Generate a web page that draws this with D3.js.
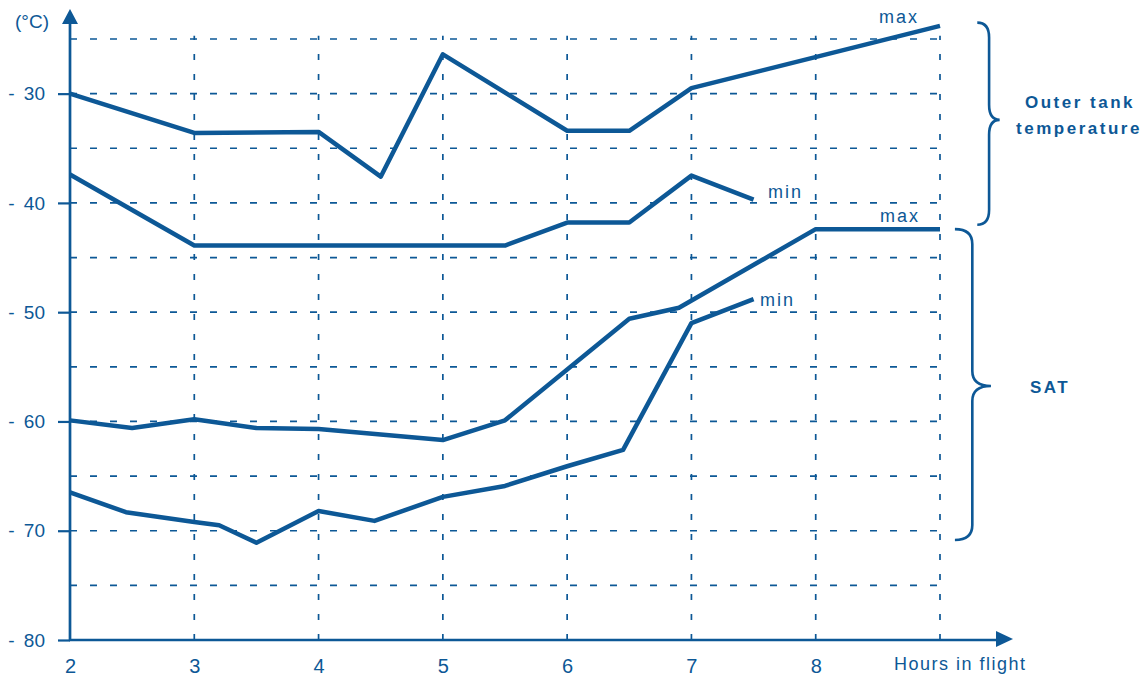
<!DOCTYPE html>
<html>
<head>
<meta charset="utf-8">
<script src="https://cdn.jsdelivr.net/npm/d3@7"></script>
<style>
  html, body { margin: 0; padding: 0; background: #fff; }
  svg { display: block; font-family: "Liberation Sans", Arial, Helvetica, sans-serif; }
</style>
</head>
<body>
<svg id="chart" width="1148" height="679"></svg>
<script>
// ---- Data (hours in flight, temperature °C) ----
const outerMaxHours = [2, 3, 4, 4.5, 5, 6, 6.5, 7, 9];
const outerMaxTemp  = [-30, -33.6, -33.5, -37.6, -26.4, -33.4, -33.4, -29.5, -23.8];

const outerMinHours = [2, 3, 5.5, 6, 6.5, 7, 7.5];
const outerMinTemp  = [-37.4, -43.9, -43.9, -41.8, -41.8, -37.5, -39.7];

const satMaxHours = [2, 2.5, 3, 3.5, 4, 5, 5.5, 6.5, 6.9, 8, 9];
const satMaxTemp  = [-59.9, -60.6, -59.8, -60.6, -60.7, -61.7, -59.9, -50.6, -49.6, -42.4, -42.4];

const satMinHours = [2, 2.45, 3, 3.2, 3.5, 4, 4.45, 5, 5.5, 6, 6.45, 7, 7.5];
const satMinTemp  = [-66.5, -68.3, -69.2, -69.5, -71.1, -68.2, -69.1, -66.9, -65.9, -64.1, -62.6, -51.0, -48.8];

const xTickLabels = [2, 3, 4, 5, 6, 7, 8];
const xGridValues = [3, 4, 5, 6, 7, 8, 9];
const yTickLabels = [-30, -40, -50, -60, -70, -80];
const yGridValues = [-25, -30, -35, -40, -45, -50, -55, -60, -65, -70, -75];

// ---- Layout ----
const color = "#0d5896";
const svg = d3.select("#chart");
const x = d3.scaleLinear().domain([2, 9]).range([70, 940]);
const y = d3.scaleLinear().domain([-80, -25]).range([640, 39]);

// Grid
const grid = svg.append("g").attr("stroke", color).attr("stroke-width", 1.7).attr("fill", "none");
grid.selectAll("line.h").data(yGridValues).join("line")
  .attr("class", "h")
  .attr("x1", x(2)).attr("x2", x(9))
  .attr("y1", d => y(d)).attr("y2", d => y(d))
  .attr("stroke-dasharray", "7,13");
grid.selectAll("line.v").data(xGridValues).join("line")
  .attr("class", "v")
  .attr("x1", d => x(d)).attr("x2", d => x(d))
  .attr("y1", y(-80)).attr("y2", y(-24.7))
  .attr("stroke-dasharray", "6,14");

// Y axis
const yAxis = svg.append("g")
  .attr("transform", `translate(${x(2)},0)`)
  .call(d3.axisLeft(y).tickValues(yTickLabels).tickSize(12).tickPadding(13)
    .tickFormat(d => "- " + Math.abs(d)));
yAxis.select(".domain").remove();
yAxis.selectAll(".tick line").attr("stroke", color).attr("stroke-width", 2.2);
yAxis.selectAll(".tick text").attr("fill", color).attr("font-size", 19)
  .style("word-spacing", "4px");

// X axis
const xAxis = svg.append("g")
  .attr("transform", `translate(0,${y(-80)})`)
  .call(d3.axisBottom(x).tickValues(xTickLabels).tickSize(0).tickPadding(19).tickFormat(d3.format("d")));
xAxis.select(".domain").remove();
xAxis.selectAll(".tick text").attr("fill", color).attr("font-size", 20);

// Axis lines with arrows
svg.append("line").attr("x1", x(2)).attr("x2", x(2)).attr("y1", y(-80) + 1).attr("y2", 22)
  .attr("stroke", color).attr("stroke-width", 2.7);
svg.append("path").attr("d", `M${x(2)},9 L${x(2) - 8},24 L${x(2) + 8},24 Z`).attr("fill", color);
svg.append("line").attr("x1", x(2) - 1).attr("x2", 1000).attr("y1", y(-80)).attr("y2", y(-80))
  .attr("stroke", color).attr("stroke-width", 2.7);
svg.append("path").attr("d", `M1013,${y(-80) - 1} L996,${y(-80) - 9} L996,${y(-80) + 7} Z`).attr("fill", color);

// Axis titles
svg.append("text").attr("x", 15).attr("y", 28).attr("fill", color).attr("font-size", 19).text("(°C)");
svg.append("text").attr("x", 894).attr("y", 670).attr("fill", color).attr("font-size", 18)
  .attr("letter-spacing", "1.5px").text("Hours in flight");

// Series
const line = d3.line().x(d => x(d[0])).y(d => y(d[1]));
const series = [
  d3.zip(outerMaxHours, outerMaxTemp),
  d3.zip(outerMinHours, outerMinTemp),
  d3.zip(satMaxHours, satMaxTemp),
  d3.zip(satMinHours, satMinTemp)
];
svg.append("g").selectAll("path").data(series).join("path")
  .attr("d", line)
  .attr("fill", "none").attr("stroke", color).attr("stroke-width", 4.5)
  .attr("stroke-linejoin", "round").attr("stroke-linecap", "butt");

// Series labels
const lbl = svg.append("g").attr("fill", color).attr("font-size", 18).attr("letter-spacing", "2px");
lbl.append("text").attr("x", 879).attr("y", 23).text("max");
lbl.append("text").attr("x", 768).attr("y", 198).text("min");
lbl.append("text").attr("x", 880).attr("y", 222).text("max");
lbl.append("text").attr("x", 760).attr("y", 306).text("min");

// Braces
function brace(xEnd, xMid, xTip, yTop, yBot, yTip) {
  const r = 15;
  return `M${xEnd},${yTop} Q${xMid},${yTop} ${xMid},${yTop + r} L${xMid},${yTip - r}` +
         ` Q${xMid},${yTip} ${xTip},${yTip} Q${xMid},${yTip} ${xMid},${yTip + r}` +
         ` L${xMid},${yBot - r} Q${xMid},${yBot} ${xEnd},${yBot}`;
}
svg.append("path").attr("d", brace(x(9.3), x(9.395), x(9.48), y(-23.5), y(-42.0), y(-32.4)))
  .attr("fill", "none").attr("stroke", color).attr("stroke-width", 2.6);
svg.append("path").attr("d", brace(x(9.12), x(9.26), x(9.41), y(-42.4), y(-70.85), y(-56.75)))
  .attr("fill", "none").attr("stroke", color).attr("stroke-width", 2.6);

// Group labels
const grp = svg.append("g").attr("fill", color).attr("font-size", 17).attr("font-weight", "bold")
  .attr("letter-spacing", "2.5px").attr("text-anchor", "middle");
grp.append("text").attr("x", 1080).attr("y", 108).text("Outer tank");
grp.append("text").attr("x", 1079).attr("y", 134).text("temperature");
grp.append("text").attr("x", 1050).attr("y", 393).text("SAT");
</script>
</body>
</html>
